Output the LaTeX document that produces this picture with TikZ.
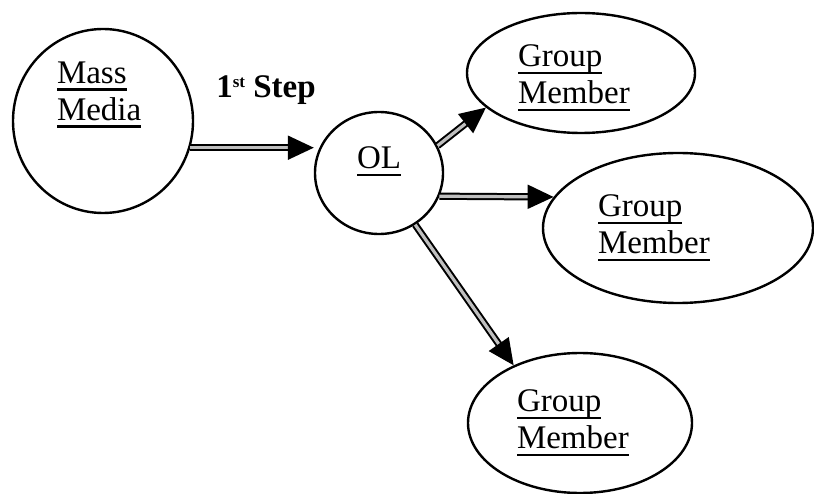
\documentclass[tikz,border=0pt]{standalone}
\usepackage{fontspec}
\setmainfont{Liberation Serif}
\usetikzlibrary{shapes.geometric,arrows.meta}
\newcommand\ulword[1]{\leavevmode\setbox0\hbox{#1}\rlap{\rule[-7pt]{\wd0}{2.4pt}}\box0}

\begin{document}
\begin{tikzpicture}[x=1pt,y=-1pt,font=\fontsize{33}{37}\selectfont,
  oval/.style={draw, ellipse, line width=2.4pt, inner sep=0pt, align=left},
  flow/.style={draw, line width=2pt, double=gray!50, double distance=3.2pt,
    -{Triangle[length=26pt,width=24pt]}}]
  \useasboundingbox (0,0) rectangle (814,494);
  % circles and ovals
  \node[oval, minimum width=180pt, minimum height=184pt, text width=92pt, text depth=96pt] (media) at (103,121) {\ulword{Mass}\\\ulword{Media}};
  \node[oval, minimum width=128pt, minimum height=122pt, text depth=30pt] (ol) at (379,173) {\ulword{OL}};
  \node[oval, minimum width=228pt, minimum height=120pt, text width=126pt, text depth=34pt] (gma) at (581,73) {\ulword{Group}\\\ulword{Member}};
  \node[oval, minimum width=270pt, minimum height=150pt, text width=160pt] (gmb) at (678,228) {\ulword{Group}\\\ulword{Member}};
  \node[oval, minimum width=224pt, minimum height=140pt, text width=126pt] (gmc) at (580,423) {\ulword{Group}\\\ulword{Member}};
  \node[font=\fontsize{33}{37}\selectfont\bfseries] (step) at (266,90) {1\raisebox{10pt}{\fontsize{17}{17}\selectfont st} Step};
  % arrows
  \draw[flow] (media.-17) -- (media.-17 -| ol.west);
  \draw[flow] (ol.25) -- (gma.200);
  \draw[flow] (ol.-21) -- (gmb.166);
  \draw[flow] (ol.-55) -- (gmc.139);
\end{tikzpicture}
\end{document}
